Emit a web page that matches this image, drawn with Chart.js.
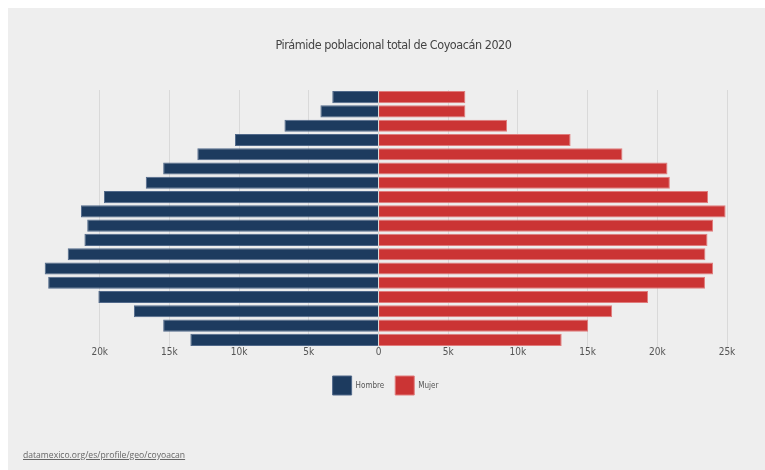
<!DOCTYPE html>
<html lang="es">
  <head>
    <meta charset="UTF-8" />
    <script src="https://cdn.jsdelivr.net/npm/chart.js@4.4.1/dist/chart.umd.min.js"></script>
    <title>Pirámide poblacional</title>
    <style>
      body { margin: 0; background: #fff; }
      #panel { position: absolute; left: 8px; top: 8px; width: 757px; height: 462px; background: #eeeeee; }
      #wrap { position: absolute; left: 0; top: 0; width: 757px; height: 462px; }
      #title {
        position: absolute; left: 0; top: 29px; width: 771px; text-align: center;
        font-family: "DejaVu Sans Condensed", "DejaVu Sans", sans-serif; font-stretch: condensed;
        font-size: 12.5px; letter-spacing: -0.45px; color: #444; white-space: nowrap;
      }
      #source {
        position: absolute; left: 15px; top: 441px;
        font-family: "Open Sans", sans-serif; font-size: 8.6px; color: #666;
        text-decoration: underline;
      }
    </style>
  </head>
  <body>
    <div id="panel">
      <div id="wrap"><canvas id="myChart"></canvas></div>
      <div id="title">Pirámide poblacional total de Coyoacán 2020</div>
      <div id="source">datamexico.org/es/profile/geo/coyoacan</div>
    </div>

    <script>
      // age groups, youngest first (axis is reversed so 85+ sits on top)
      var ages = ['0-4', '5-9', '10-14', '15-19', '20-24', '25-29', '30-34', '35-39', '40-44',
                  '45-49', '50-54', '55-59', '60-64', '65-69', '70-74', '75-79', '80-84', '85+'];
      var hombre = [13500, 15450, 17550, 20100, 23700, 23950, 22300, 21100, 20900,
                    21350, 19700, 16700, 15450, 13000, 10300, 6750, 4170, 3320];
      var mujer = [13140, 15040, 16760, 19340, 23420, 24000, 23450, 23600, 24000,
                   24900, 23640, 20900, 20730, 17500, 13780, 9220, 6230, 6230];
      var xTicks = [-20000, -15000, -10000, -5000, 0, 5000, 10000, 15000, 20000, 25000];

      var small = '"DejaVu Sans", sans-serif';
      // 'condensed' lands in the canvas font shorthand as font-stretch
      var squeeze = 'condensed';

      var ctx = document.getElementById('myChart').getContext('2d');
      var myChart = new Chart(ctx, {
        type: 'bar',
        data: {
          labels: ages,
          datasets: [
            {
              label: 'Hombre',
              data: hombre.map(v => -v),
              backgroundColor: '#1d3b5f',
              borderColor: '#51698a',
              borderWidth: 1
            },
            {
              label: 'Mujer',
              data: mujer,
              backgroundColor: '#cb3434',
              borderColor: '#e07c7c',
              borderWidth: 1
            }
          ]
        },
        options: {
          indexAxis: 'y',
          responsive: true,
          maintainAspectRatio: false,
          animation: false,
          barPercentage: 0.85,
          categoryPercentage: 1,
          layout: { padding: { left: 36, right: 38, top: 82, bottom: 65 } },
          plugins: {
            title: { display: false },
            legend: {
              position: 'bottom',
              labels: {
                boxWidth: 19,
                boxHeight: 19,
                padding: 11,
                color: '#555',
                font: { family: small, size: 8, weight: squeeze }
              }
            },
            tooltip: { enabled: false }
          },
          scales: {
            x: {
              stacked: true,
              min: -24000,
              max: 25000,
              border: { display: false },
              grid: { color: '#d9d9d9', drawTicks: false, lineWidth: 1 },
              afterBuildTicks: s => { s.ticks = xTicks.map(v => ({ value: v })); },
              afterFit: s => { s.height += 8; },
              ticks: {
                padding: 0,
                color: '#555',
                font: { family: small, size: 10, weight: squeeze, lineHeight: 1 },
                callback: v => v === 0 ? '0' : Math.abs(v) / 1000 + 'k'
              }
            },
            y: {
              stacked: true,
              reverse: true,
              display: false
            }
          }
        }
      });
    </script>
  </body>
</html>
